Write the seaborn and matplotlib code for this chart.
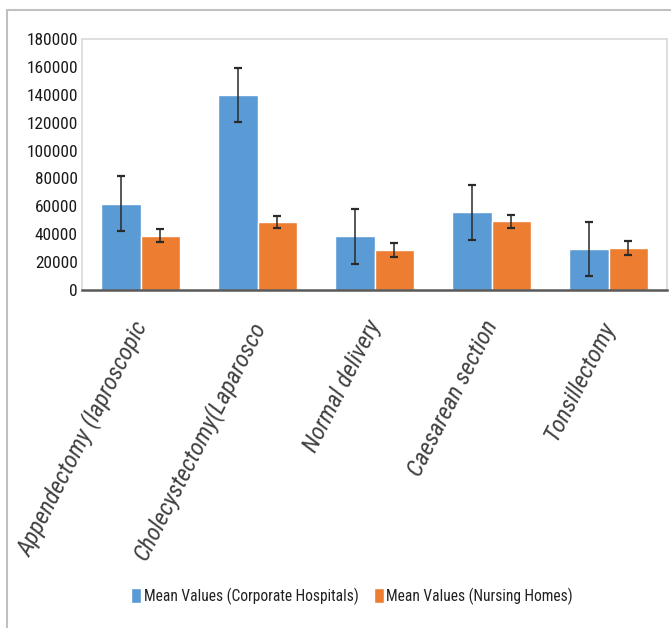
import matplotlib
matplotlib.use("Agg")
import matplotlib.pyplot as plt
import matplotlib.lines as mlines
import matplotlib.font_manager as fm
import seaborn as sns
import pandas as pd

categories = ["Appendectomy (laproscopic", "Cholecystectomy(Laparosco",
              "Normal delivery", "Caesarean section", "Tonsillectomy"]
series_names = ["Mean Values (Corporate Hospitals)", "Mean Values (Nursing Homes)"]
corporate = [62000, 140000, 38500, 55700, 29500]
corporate_err = [19500, 19500, 19800, 19500, 19500]
nursing = [39000, 48800, 28800, 49300, 30000]
nursing_err = [4500, 4500, 4900, 4700, 5000]
yticks = list(range(0, 180001, 20000))

sns.set_theme(style="white")
plt.rcParams['font.family'] = ['Liberation Sans', 'DejaVu Sans']


def pick_font(italic):
    entries = fm.fontManager.ttflist
    def ok_style(f):
        return (f.style in ("italic", "oblique")) == italic and f.weight in (400, "normal", "regular")
    for key in ["Roboto Condensed", "Liberation Sans Narrow", "Open Sans Condensed",
                "Noto Sans Condensed", "DejaVu Sans Condensed"]:
        for f in entries:
            if f.name == key and ok_style(f):
                return f
    for f in entries:
        if ("Condensed" in f.name or "Narrow" in f.name) and ok_style(f):
            return f
    return None


reg = pick_font(False)
ita = pick_font(True)


def fprop(entry, size, italic=False):
    if entry is not None:
        return fm.FontProperties(fname=entry.fname, size=size)
    return fm.FontProperties(family=['Liberation Sans', 'DejaVu Sans'], size=size * 0.85,
                             style="italic" if italic else "normal")


df = pd.DataFrame({
    "category": categories * 2,
    "series": [series_names[0]] * 5 + [series_names[1]] * 5,
    "value": corporate + nursing,
})

W, H = 671, 628
fig = plt.figure(figsize=(W / 100, H / 100), dpi=100)
ax = fig.add_axes([82 / W, 1 - 290 / H, (667 - 82) / W, (290 - 39) / H])

sns.barplot(data=df, x="category", y="value", hue="series", order=categories,
            hue_order=series_names, palette=["#5B9BD5", "#ED7D31"],
            width=0.667, gap=0, errorbar=None, saturation=1, ax=ax, legend=True)

for container, errs, vals in zip(ax.containers, [corporate_err, nursing_err], [corporate, nursing]):
    xs = [p.get_x() + p.get_width() / 2 for p in container.patches]
    ax.errorbar(xs, vals, yerr=errs, fmt="none", ecolor="#2a2a2a", elinewidth=1.1,
                capsize=2.8, capthick=1.6, zorder=5)

ax.set_ylim(0, 180000)
ax.set_yticks(yticks)
ax.set_yticklabels([str(v) for v in yticks])
ytfp = fprop(reg, 12.4)
for t in ax.get_yticklabels():
    t.set_fontproperties(ytfp)
ax.tick_params(axis="y", length=0, pad=3, colors="#1a1a1a")
ax.set_xticks([])
ax.set_xlabel("")
ax.set_ylabel("")
ax.set_xlim(-0.5, 4.5)

for s in ["left", "top", "right"]:
    ax.spines[s].set_color("#D9D9D9")
    ax.spines[s].set_linewidth(1.2)
ax.spines["bottom"].set_color("#595959")
ax.spines["bottom"].set_linewidth(1.8)

xlfp = fprop(ita, 17.5, italic=True)
for i, lab in enumerate(categories):
    ax.text(i - 0.08, -27 / 251, lab, transform=ax.get_xaxis_transform(),
            rotation=63, rotation_mode="anchor", ha="right", va="top",
            fontproperties=xlfp, color="#404040")

handles, labels = ax.get_legend_handles_labels()
ax.legend_.remove()
fig.legend(handles, labels, loc="center", bbox_to_anchor=(352 / W, 1 - 596 / H),
           ncol=2, frameon=False, prop=fprop(reg, 11.2), handlelength=0.65, handleheight=1.1,
           handletextpad=0.15, columnspacing=1.0, labelcolor="#222222")

fig.add_artist(mlines.Line2D([7 / W, 1], [1 - 10 / H, 1 - 10 / H], color="#C0C0C0", lw=1.5,
                             transform=fig.transFigure))
fig.add_artist(mlines.Line2D([7 / W, 7 / W], [0, 1 - 10 / H], color="#C0C0C0", lw=1.5,
                             transform=fig.transFigure))

fig.savefig("out.png", dpi=100)
